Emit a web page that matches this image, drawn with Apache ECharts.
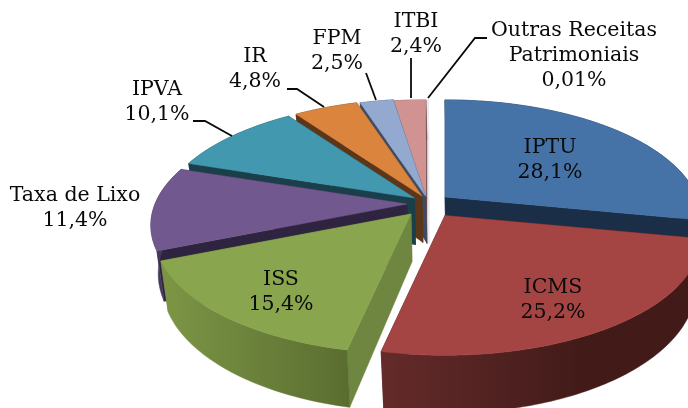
<!DOCTYPE html>
<html>
<head>
<meta charset="utf-8">
<style>
  html, body { margin: 0; padding: 0; background: #fff; }
  #chart { width: 688px; height: 408px; }
</style>
<script src="https://cdn.jsdelivr.net/npm/echarts@6/dist/echarts.min.js"></script>
</head>
<body>
<div id="chart"></div>
<script>
// valores
const categories = ['IPTU', 'ICMS', 'ISS', 'Taxa de Lixo', 'IPVA', 'IR', 'FPM', 'ITBI', 'Outras Receitas\nPatrimoniais'];
const values = [28.1, 25.2, 15.4, 11.4, 10.1, 4.8, 2.5, 2.4, 0.01];

// cores: topo, corte, borda (esq -> dir)
const topColors = ['#4572A7', '#A54543', '#89A54E', '#71588F', '#4198AF', '#DB843D', '#93A9CF', '#D19392', '#E9E6EE'];
const cutColors = ['#1A2E47', '#431B1A', '#6E8640', '#2F2440', '#1A3F4A', '#5C3619', '#3F4B62', '#5E4344', '#E9E6EE'];
const rimLeft = ['#1A2E47', '#642B2A', '#7C9645', '#4A3A5E', '#1A3F4A', '#5C3619', '#3F4B62', '#5E4344', '#E9E6EE'];
const rimRight = ['#1A2E47', '#421B19', '#5A6D30', '#3A2D4C', '#1A3F4A', '#5C3619', '#3F4B62', '#5E4344', '#E9E6EE'];

// ordem de pintura, de tras para frente
const drawOrder = [8, 7, 6, 5, 4, 3, 0, 2, 1];

// layout do "3D"
const cx = 425, cy = 203;
const rx = 252, ry = 114.6, persp = 0.18;
const explode = [[20, -6], [20, 12.5], [-14, 11], [-18, 1], [-10.5, -5], [-3, -7], [0.5, -7], [1, -6], [3, -6]];

// rotulos: centro do texto e linha guia
const labelPos = [[550, 160], [553, 300], [281, 292], [75, 208], [157, 102], [255, 69], [337, 51], [416, 34], [574, 56]];
const leaders = [null, null, null, null,
  [[193, 121], [205, 121], [232, 136]],
  [[287, 89], [297, 89], [324, 107]],
  [[366, 73], [376, 100]],
  [[411, 58], [411, 98]],
  [[487, 38], [475, 38], [428, 98]]];

const total = values.reduce((a, b) => a + b, 0);
const starts = [];
values.reduce((acc, v, i) => { starts[i] = acc; return acc + v; }, 0);

function project(theta) {
  const u = Math.sin(theta), v = -Math.cos(theta), d = 1 - persp * v;
  return [rx * u / d, ry * v / d];
}
function depth(y) { return 47 + (y - 203) * 0.07; }

function renderSlice(params, api) {
  const i = api.value(0);
  const a0 = starts[i] / total * Math.PI * 2;
  const a1 = (starts[i] + api.value(1)) / total * Math.PI * 2;
  const ax = cx + explode[i][0], ay = cy + explode[i][1];
  const steps = Math.max(2, Math.ceil((a1 - a0) / 0.02));
  const top = [], bottom = [];
  for (let s = 0; s <= steps; s++) {
    const p = project(a0 + (a1 - a0) * s / steps);
    const y = ay + p[1];
    top.push([ax + p[0], y]);
    bottom.push([ax + 1 + p[0] * 0.975, y + depth(y)]);
  }
  const apexBottom = [ax + 1, ay + depth(ay)];
  const apexTop = [ax, ay];
  const xs = top.map(p => p[0]).concat(bottom.map(p => p[0]));
  const rimFill = new echarts.graphic.LinearGradient(
    Math.min.apply(null, xs), 0, Math.min.apply(null, xs) + Math.min(Math.max.apply(null, xs) - Math.min.apply(null, xs), 200), 0,
    [{ offset: 0, color: rimLeft[i] }, { offset: 1, color: rimRight[i] }], true);
  const poly = (points, fill) => ({
    type: 'polygon',
    shape: { points: points },
    style: { fill: fill, stroke: fill, lineWidth: 0.5 }
  });
  const children = [
    poly([apexTop, top[0], bottom[0], apexBottom], cutColors[i]),
    poly([apexTop, top[steps], bottom[steps], apexBottom], cutColors[i]),
    poly(top.concat(bottom.slice().reverse()), rimFill),
    poly([apexTop].concat(top), topColors[i])
  ];
  return { type: 'group', children: children };
}

function renderLabel(params, api) {
  const i = api.value(0);
  const pct = String(api.value(1)).replace('.', ',') + '%';
  const children = [{
    type: 'text',
    style: {
      text: categories[i] + '\n' + pct,
      x: labelPos[i][0], y: labelPos[i][1],
      textAlign: 'center', textVerticalAlign: 'middle',
      fontFamily: 'DejaVu Serif', fontSize: 20.5, lineHeight: 25, fill: '#0a0a0a'
    }
  }];
  if (leaders[i]) {
    children.push({
      type: 'polyline',
      shape: { points: leaders[i] },
      style: { fill: null, stroke: '#0a0a0a', lineWidth: 1.8 }
    });
  }
  return { type: 'group', children: children };
}

const chart = echarts.init(document.getElementById('chart'), null, { renderer: 'canvas' });
chart.setOption({
  backgroundColor: '#fff',
  animation: false,
  series: [
    {
      type: 'custom',
      coordinateSystem: 'none',
      silent: true,
      renderItem: renderSlice,
      data: drawOrder.map(i => [i, values[i]])
    },
    {
      type: 'custom',
      coordinateSystem: 'none',
      silent: true,
      z: 5,
      renderItem: renderLabel,
      data: values.map((v, i) => [i, v])
    }
  ]
});
</script>
</body>
</html>
